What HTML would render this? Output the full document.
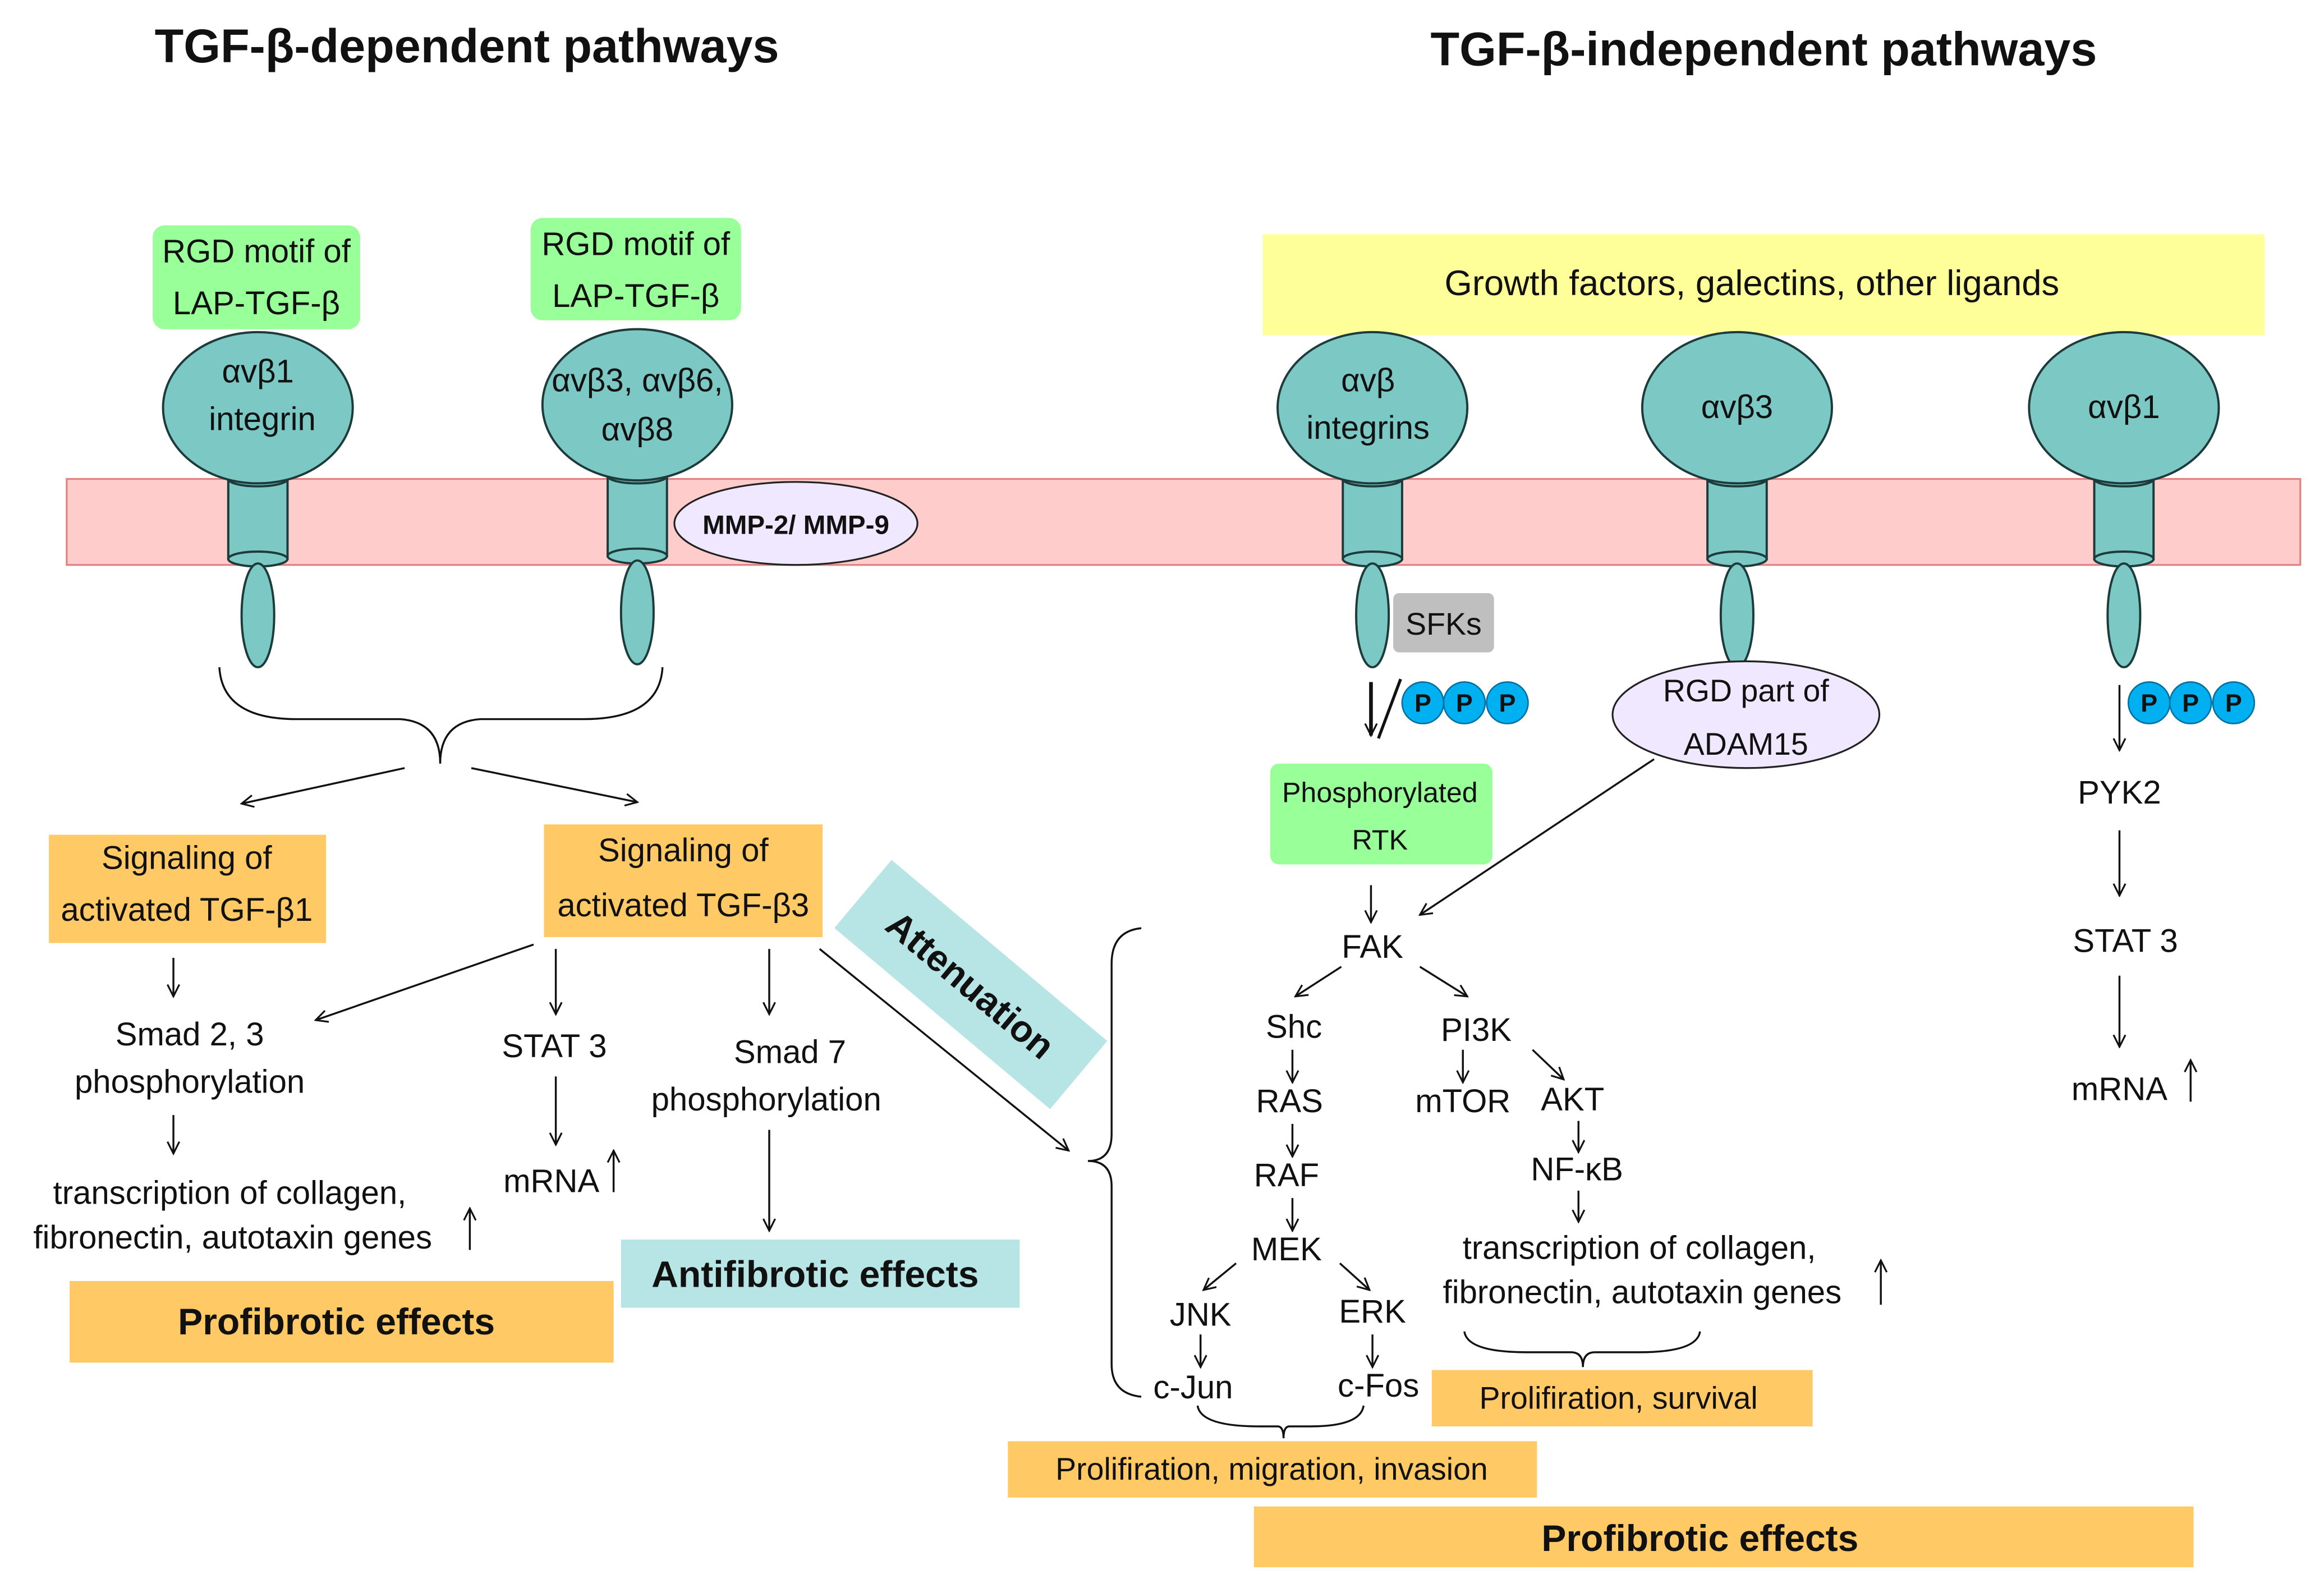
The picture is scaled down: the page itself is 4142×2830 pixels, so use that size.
<!DOCTYPE html>
<html><head><meta charset="utf-8"><style>
html,body{margin:0;padding:0;background:#fff}
svg{display:block}
text{font-family:"Liberation Sans","DejaVu Sans",sans-serif;fill:#111}
</style></head><body>
<svg width="4142" height="2830" viewBox="0 0 1568 1071" preserveAspectRatio="none" xmlns="http://www.w3.org/2000/svg">
<defs>
<marker id="a" markerWidth="10" markerHeight="10" refX="9" refY="5" orient="auto" markerUnits="userSpaceOnUse"><path d="M1,1 L9,5 L1,9" fill="none" stroke="#111" stroke-width="1.2"/></marker>
<g id="integ">
<rect x="-20" y="48" width="40" height="54" fill="#7cc8c4" stroke="#1d3b3b" stroke-width="1.5"/>
<ellipse cx="0" cy="48" rx="20" ry="5" fill="#7cc8c4" stroke="#1d3b3b" stroke-width="1.5"/>
<ellipse cx="0" cy="102" rx="20" ry="5" fill="#7cc8c4" stroke="#1d3b3b" stroke-width="1.5"/>
<ellipse cx="0" cy="0" rx="64" ry="51" fill="#7cc8c4" stroke="#1d3b3b" stroke-width="1.5"/>
<ellipse cx="0" cy="140" rx="11" ry="35" fill="#7cc8c4" stroke="#1d3b3b" stroke-width="1.5"/>
</g>
</defs>
<text x="315" y="42" font-size="32" font-weight="bold" text-anchor="middle">TGF-β-dependent pathways</text>
<text x="1190" y="44" font-size="32" font-weight="bold" text-anchor="middle">TGF-β-independent pathways</text>
<rect x="852" y="158" width="676" height="68" fill="#ffff99"/>
<text x="1182" y="199" font-size="24" text-anchor="middle">Growth factors, galectins, other ligands</text>
<rect x="45" y="323" width="1507" height="58" fill="#ffcccc" stroke="#e08080" stroke-width="1.2"/>
<use href="#integ" x="174" y="275"/>
<use href="#integ" x="430" y="273"/>
<use href="#integ" x="926" y="275"/>
<use href="#integ" x="1172" y="275"/>
<use href="#integ" x="1433" y="275"/>
<text x="174" y="258" font-size="22" text-anchor="middle">αvβ1</text>
<text x="177" y="290" font-size="22" text-anchor="middle">integrin</text>
<text x="430" y="264" font-size="22" text-anchor="middle">αvβ3, αvβ6,</text>
<text x="430" y="297" font-size="22" text-anchor="middle">αvβ8</text>
<text x="923" y="264" font-size="22" text-anchor="middle">αvβ</text>
<text x="923" y="296" font-size="22" text-anchor="middle">integrins</text>
<text x="1172" y="282" font-size="22" text-anchor="middle">αvβ3</text>
<text x="1433" y="282" font-size="22" text-anchor="middle">αvβ1</text>
<rect x="103" y="152" width="140" height="70" rx="8" fill="#99ff99"/>
<text x="173" y="177" font-size="22" text-anchor="middle">RGD motif of</text>
<text x="173" y="212" font-size="22" text-anchor="middle">LAP-TGF-β</text>
<rect x="358" y="147" width="142" height="69" rx="8" fill="#99ff99"/>
<text x="429" y="172" font-size="22" text-anchor="middle">RGD motif of</text>
<text x="429" y="207" font-size="22" text-anchor="middle">LAP-TGF-β</text>
<ellipse cx="537" cy="353" rx="82" ry="28" fill="#f0e8ff" stroke="#222" stroke-width="1.2"/>
<text x="537" y="360" font-size="18" font-weight="bold" text-anchor="middle">MMP-2/ MMP-9</text>
<rect x="940" y="400" width="68" height="40" rx="4" fill="#bfbfbf"/>
<text x="974" y="428" font-size="21" text-anchor="middle">SFKs</text>
<g font-size="17" font-weight="bold" text-anchor="middle">
<circle cx="960" cy="474" r="14" fill="#00b0f0" stroke="#0070a0"/><text x="960" y="480">P</text>
<circle cx="988" cy="474" r="14" fill="#00b0f0" stroke="#0070a0"/><text x="988" y="480">P</text>
<circle cx="1017" cy="474" r="14" fill="#00b0f0" stroke="#0070a0"/><text x="1017" y="480">P</text>
<circle cx="1450" cy="474" r="14" fill="#00b0f0" stroke="#0070a0"/><text x="1450" y="480">P</text>
<circle cx="1478" cy="474" r="14" fill="#00b0f0" stroke="#0070a0"/><text x="1478" y="480">P</text>
<circle cx="1507" cy="474" r="14" fill="#00b0f0" stroke="#0070a0"/><text x="1507" y="480">P</text>
</g>
<ellipse cx="1178" cy="482" rx="90" ry="36" fill="#f0e8ff" stroke="#222" stroke-width="1.2"/>
<text x="1178" y="473" font-size="21" text-anchor="middle">RGD part of</text>
<text x="1178" y="509" font-size="21" text-anchor="middle">ADAM15</text>
<rect x="857" y="515" width="150" height="68" rx="6" fill="#99ff99"/>
<text x="931" y="541" font-size="19" text-anchor="middle">Phosphorylated</text>
<text x="931" y="573" font-size="19" text-anchor="middle">RTK</text>
<g fill="none" stroke="#111" stroke-width="1.3">
<path d="M148,450 Q150,485 200,485 L270,485 Q297,487 297,515 Q297,487 324,485 L394,485 Q445,485 447,450"/>
<path d="M273,518 L163,542" marker-end="url(#a)"/>
<path d="M318,518 L430,541" marker-end="url(#a)"/>
<path d="M117,646 L117,672" marker-end="url(#a)"/>
<path d="M117,752 L117,778" marker-end="url(#a)"/>
<path d="M360,637 L213,688" marker-end="url(#a)"/>
<path d="M375,640 L375,684" marker-end="url(#a)"/>
<path d="M375,726 L375,772" marker-end="url(#a)"/>
<path d="M519,640 L519,684" marker-end="url(#a)"/>
<path d="M519,762 L519,830" marker-end="url(#a)"/>
<path d="M553,640 L721,776" marker-end="url(#a)"/>
<path d="M770,626 Q750,628 750,650 L750,765 Q750,783 734,783 Q750,783 750,800 L750,920 Q750,940 770,942"/>
<path d="M925,460 L925,496" marker-end="url(#a)" stroke-width="2.5"/>
<path d="M945,458 L930,498" stroke-width="2"/>
<path d="M1116,512 L958,617" marker-end="url(#a)"/>
<path d="M925,597 L925,622" marker-end="url(#a)"/>
<path d="M905,652 L874,672" marker-end="url(#a)"/>
<path d="M958,652 L990,672" marker-end="url(#a)"/>
<path d="M872,708 L872,730" marker-end="url(#a)"/>
<path d="M872,758 L872,780" marker-end="url(#a)"/>
<path d="M872,808 L872,830" marker-end="url(#a)"/>
<path d="M834,852 L812,870" marker-end="url(#a)"/>
<path d="M904,852 L924,870" marker-end="url(#a)"/>
<path d="M810,900 L810,922" marker-end="url(#a)"/>
<path d="M926,900 L926,922" marker-end="url(#a)"/>
<path d="M987,708 L987,730" marker-end="url(#a)"/>
<path d="M1034,708 L1055,728" marker-end="url(#a)"/>
<path d="M1065,756 L1065,777" marker-end="url(#a)"/>
<path d="M1065,803 L1065,824" marker-end="url(#a)"/>
<path d="M1430,462 L1430,506" marker-end="url(#a)"/>
<path d="M1430,560 L1430,604" marker-end="url(#a)"/>
<path d="M1430,658 L1430,706" marker-end="url(#a)"/>
<path d="M808,948 Q810,962 850,962 L862,962 Q866,962 866,970 Q866,962 870,962 L884,962 Q918,962 920,948"/>
<path d="M988,898 Q990,912 1030,912 L1060,912 Q1068,912 1068,922 Q1068,912 1076,912 L1106,912 Q1145,912 1147,898"/>
<path d="M317,843 L317,815" marker-end="url(#a)"/>
<path d="M414,804 L414,776" marker-end="url(#a)"/>
<path d="M1269,880 L1269,850" marker-end="url(#a)"/>
<path d="M1478,743 L1478,715" marker-end="url(#a)"/>
</g>
<rect x="33" y="563" width="187" height="73" fill="#ffc966"/>
<text x="126" y="586" font-size="22" text-anchor="middle">Signaling of</text>
<text x="126" y="621" font-size="22" text-anchor="middle">activated TGF-β1</text>
<rect x="367" y="556" width="188" height="76" fill="#ffc966"/>
<text x="461" y="581" font-size="22" text-anchor="middle">Signaling of</text>
<text x="461" y="618" font-size="22" text-anchor="middle">activated TGF-β3</text>
<g transform="translate(655,664) rotate(40)">
<rect x="-95" y="-30" width="190" height="60" fill="#b7e4e4"/>
<text x="0" y="9" font-size="25" font-weight="bold" text-anchor="middle">Attenuation</text>
</g>
<g font-size="22" text-anchor="middle">
<text x="128" y="705">Smad 2, 3</text>
<text x="128" y="737">phosphorylation</text>
<text x="155" y="812">transcription of collagen,</text>
<text x="157" y="842">fibronectin, autotaxin genes</text>
<text x="374" y="713">STAT 3</text>
<text x="372" y="804">mRNA</text>
<text x="533" y="717">Smad 7</text>
<text x="517" y="749">phosphorylation</text>
<text x="926" y="646">FAK</text>
<text x="873" y="700">Shc</text>
<text x="996" y="702">PI3K</text>
<text x="870" y="750">RAS</text>
<text x="987" y="750">mTOR</text>
<text x="1061" y="749">AKT</text>
<text x="868" y="800">RAF</text>
<text x="1064" y="796">NF-κB</text>
<text x="868" y="850">MEK</text>
<text x="1106" y="849">transcription of collagen,</text>
<text x="1108" y="879">fibronectin, autotaxin genes</text>
<text x="810" y="894">JNK</text>
<text x="926" y="892">ERK</text>
<text x="805" y="943">c-Jun</text>
<text x="930" y="942">c-Fos</text>
<text x="1430" y="542">PYK2</text>
<text x="1434" y="642">STAT 3</text>
<text x="1430" y="742">mRNA</text>
</g>
<rect x="419" y="836" width="269" height="46" fill="#b7e4e4"/>
<text x="550" y="868" font-size="25" font-weight="bold" text-anchor="middle">Antifibrotic effects</text>
<rect x="47" y="864" width="367" height="55" fill="#ffc966"/>
<text x="227" y="900" font-size="25" font-weight="bold" text-anchor="middle">Profibrotic effects</text>
<rect x="966" y="924" width="257" height="38" fill="#ffc966"/>
<text x="1092" y="950" font-size="21" text-anchor="middle">Prolifiration, survival</text>
<rect x="680" y="972" width="357" height="38" fill="#ffc966"/>
<text x="858" y="998" font-size="21" text-anchor="middle">Prolifiration, migration, invasion</text>
<rect x="846" y="1016" width="634" height="41" fill="#ffc966"/>
<text x="1147" y="1046" font-size="25" font-weight="bold" text-anchor="middle">Profibrotic effects</text>
</svg>
</body></html>
